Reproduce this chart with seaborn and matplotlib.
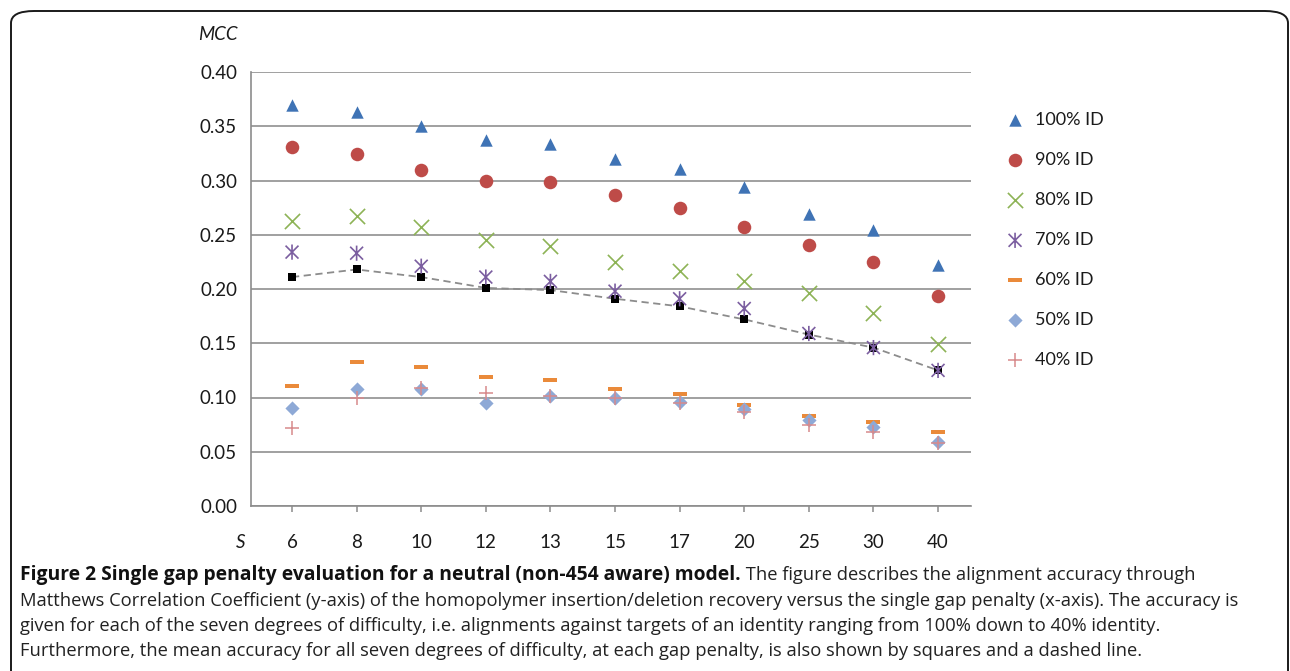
import numpy as np
import pandas as pd
import matplotlib
matplotlib.use("Agg")
import matplotlib.pyplot as plt
from matplotlib.path import Path
from matplotlib.patches import FancyBboxPatch
import seaborn as sns

# ---------------- data ----------------
gap_penalty = ['6', '8', '10', '12', '13', '15', '17', '20', '25', '30', '40']
id100 = [0.370, 0.363, 0.350, 0.337, 0.334, 0.320, 0.311, 0.294, 0.269, 0.254, 0.222]
id90 = [0.331, 0.324, 0.310, 0.300, 0.299, 0.287, 0.275, 0.257, 0.241, 0.225, 0.194]
id80 = [0.263, 0.267, 0.257, 0.245, 0.240, 0.225, 0.217, 0.207, 0.196, 0.178, 0.149]
id70 = [0.234, 0.233, 0.221, 0.211, 0.207, 0.198, 0.191, 0.182, 0.159, 0.146, 0.125]
id60 = [0.111, 0.133, 0.128, 0.119, 0.116, 0.108, 0.103, 0.093, 0.083, 0.077, 0.068]
id50 = [0.090, 0.108, 0.108, 0.095, 0.101, 0.100, 0.096, 0.089, 0.079, 0.073, 0.059]
id40 = [0.072, 0.100, 0.109, 0.104, 0.101, 0.0995, 0.095, 0.087, 0.075, 0.068, 0.058]
mean_acc = [0.211, 0.218, 0.211, 0.201, 0.199, 0.191, 0.184, 0.172, 0.158, 0.146, 0.125]
series_labels = ['100% ID', '90% ID', '80% ID', '70% ID', '60% ID', '50% ID', '40% ID']
y_ticks = [0.00, 0.05, 0.10, 0.15, 0.20, 0.25, 0.30, 0.35, 0.40]

# ---------------- style ----------------
sns.set_theme(style="white")
plt.rcParams['font.family'] = ['Lato', 'DejaVu Sans']

W, H = 1290, 671
fig = plt.figure(figsize=(W / 100, H / 100), dpi=100)
fig.patch.set_facecolor('white')

def fx(px):
    return px / W

def fy(py):
    return 1 - py / H

ax = fig.add_axes([fx(251), fy(506), fx(971) - fx(251), fy(72) - fy(506)])

pos = np.arange(len(gap_penalty))
df = pd.DataFrame({'pos': pos, 'mean': mean_acc})

# custom markers
asterisk = Path([(0, -1), (0, 1), (-0.85, -0.85), (0.85, 0.85), (-0.85, 0.85), (0.85, -0.85)],
                [Path.MOVETO, Path.LINETO, Path.MOVETO, Path.LINETO, Path.MOVETO, Path.LINETO])
dash = Path([(-1, -0.3), (1, -0.3), (1, 0.3), (-1, 0.3), (-1, -0.3)],
            [Path.MOVETO, Path.LINETO, Path.LINETO, Path.LINETO, Path.CLOSEPOLY])

# mean line (dashed) with black squares
sns.lineplot(data=df, x='pos', y='mean', ax=ax, color='#8C8C8C', linestyle=(0, (4, 2.5)),
             linewidth=1.3, zorder=2, legend=False)
sns.scatterplot(data=df, x='pos', y='mean', ax=ax, marker='s', s=30, color='black',
                edgecolor='black', linewidth=0, zorder=3, legend=False)

specs = [
    (id100, '^', '#3F73B5', 80, dict(linewidth=0)),
    (id90, 'o', '#BE4B48', 95, dict(linewidth=0)),
    (id80, 'x', '#8DB356', 120, dict(linewidth=1.2)),
    (id70, asterisk, '#7B5EA0', 120, dict(linewidth=1.2, edgecolor='#7B5EA0', facecolor='none')),
    (id60, dash, '#EA8A3A', 115, dict(linewidth=0)),
    (id50, 'D', '#8EA9D6', 52, dict(linewidth=0)),
    (id40, '+', '#D78A8C', 110, dict(linewidth=1.1)),
]
handles = []
for vals, mk, col, size, kw in specs:
    d = pd.DataFrame({'pos': pos, 'val': vals})
    sns.scatterplot(data=d, x='pos', y='val', ax=ax, marker=mk, s=size, color=col,
                    zorder=4, legend=False, **kw)
    handles.append(ax.collections[-1])

ax.set_xlim(-0.635, 10.51)
ax.set_ylim(0, 0.40)
ax.set_yticks(y_ticks)
ax.set_yticklabels([f'{v:.2f}' for v in y_ticks])
ax.set_xticks(pos)
ax.set_xticklabels(gap_penalty)
ax.set_xlabel('')
ax.set_ylabel('')
ax.grid(axis='y', color='#A0A0A0', linewidth=1.4)
ax.set_axisbelow(True)
for side in ['top', 'right']:
    ax.spines[side].set_visible(False)
for side in ['left', 'bottom']:
    ax.spines[side].set_color('#8C8C8C')
    ax.spines[side].set_linewidth(1.2)
ax.tick_params(axis='y', length=0, pad=10, labelsize=13.5, colors='#1A1A1A')
ax.tick_params(axis='x', direction='out', length=4.5, width=1.1, color='#8C8C8C',
               bottom=True, pad=16, labelsize=13.5, labelcolor='#1A1A1A')

fig.text(fx(218), fy(35), 'MCC', style='italic', fontsize=13.5, ha='center', va='center', color='#1A1A1A')
fig.text(fx(241), fy(542), 'S', style='italic', fontsize=13.5, ha='center', va='center', color='#1A1A1A')

leg = fig.legend(handles, series_labels, loc='upper left', bbox_to_anchor=(fx(997), fy(103)),
                 frameon=False, fontsize=13, labelspacing=1.33, handletextpad=0.6,
                 handlelength=1.0, borderpad=0, scatterpoints=1)
for t in leg.get_texts():
    t.set_color('#1A1A1A')

# border box
box = FancyBboxPatch((fx(11), fy(720)), fx(1288) - fx(11), fy(11) - fy(720),
                     boxstyle='round,pad=0,rounding_size=0.018', transform=fig.transFigure,
                     fill=False, edgecolor='#1A1A1A', linewidth=1.4, clip_on=False)
fig.patches.append(box)

# caption
cap_font = 'Open Sans'
cap_size = 13.25
bold_size = 13.85
lines = [
    'Matthews Correlation Coefficient (y-axis) of the homopolymer insertion/deletion recovery versus the single gap penalty (x-axis). The accuracy is',
    'given for each of the seven degrees of difficulty, i.e. alignments against targets of an identity ranging from 100% down to 40% identity.',
    'Furthermore, the mean accuracy for all seven degrees of difficulty, at each gap penalty, is also shown by squares and a dashed line.',
]
bold = fig.text(fx(20), fy(580), 'Figure 2 Single gap penalty evaluation for a neutral (non-454 aware) model.',
                fontsize=bold_size, fontweight='bold', family=cap_font, ha='left', va='baseline', color='#111111')
fig.canvas.draw()
bb = bold.get_window_extent(renderer=fig.canvas.get_renderer())
fig.text(bb.x1 / W, fy(580), ' The figure describes the alignment accuracy through',
         fontsize=cap_size, family=cap_font, ha='left', va='baseline', color='#222222')
for i, ln in enumerate(lines):
    fig.text(fx(20), fy(606 + 25 * i), ln, fontsize=cap_size, family=cap_font,
             ha='left', va='baseline', color='#222222')

fig.savefig('out.png', dpi=100)
